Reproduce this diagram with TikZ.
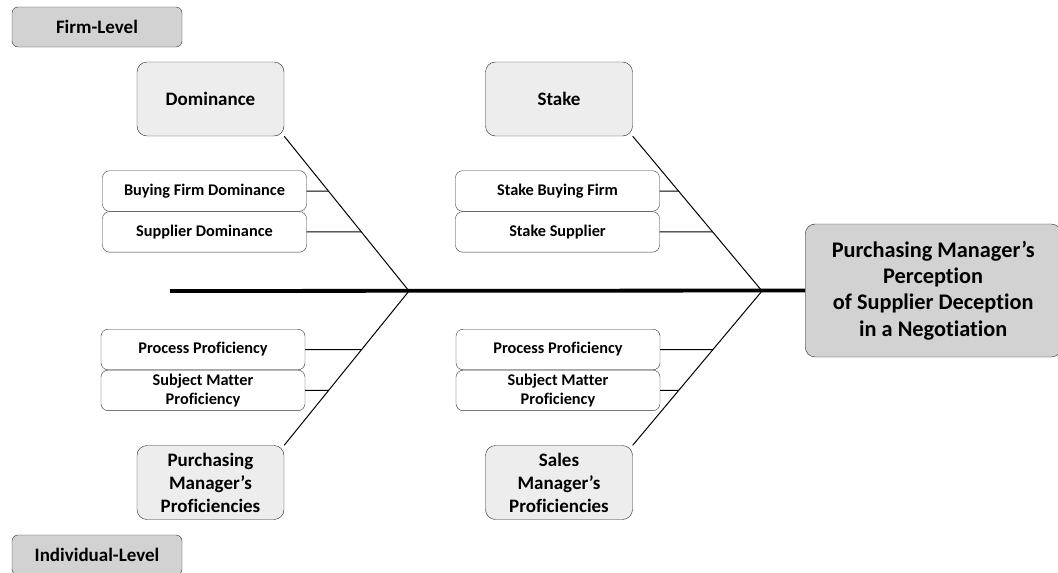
\documentclass[tikz,border=0pt]{standalone}
\usepackage{fontspec}
\setmainfont{Carlito}[Ligatures=NoCommon]
\usetikzlibrary{shapes.misc, positioning, calc}
\definecolor{darkgrey}{RGB}{210,210,210}
\definecolor{lightgrey}{RGB}{237,237,237}
\def\bigfnt{\bfseries\fontsize{19}{23}\selectfont}
\def\smallfnt{\bfseries\fontsize{16.3}{19.5}\selectfont}
\tikzstyle{level} = [rectangle, rounded corners=6pt, draw=black!80, fill=darkgrey, minimum width=170pt, minimum height=40pt, text centered, font=\bigfnt]
\tikzstyle{cause} = [rectangle, rounded corners=10pt, draw=black!85, fill=lightgrey, minimum width=147pt, minimum height=74pt, align=center, font=\bigfnt]
\tikzstyle{factor} = [rectangle, rounded corners=7pt, draw=black!80, fill=white, minimum width=204pt, minimum height=40.5pt, align=center, font=\smallfnt]
\tikzstyle{effect} = [rectangle, rounded corners=10pt, draw=black!85, fill=darkgrey, minimum width=256pt, minimum height=133pt, align=center, font=\bfseries\fontsize{22.3}{26.3}\selectfont]
\tikzstyle{bone} = [line width=1pt]
\tikzstyle{spine} = [line width=3.8pt]

\begin{document}
\begin{tikzpicture}[x=1pt, y=-1pt, inner sep=2pt]

  \useasboundingbox (0,0) rectangle (1058,573);

  % levels
  \node (firm) [level] at (97,27) {Firm-Level};
  \node (indiv) [level] at (97,555) {Individual-Level};

  % effect and spine
  \node (eff) [effect, anchor=west] at (805,290.5) {Purchasing Manager’s\\Perception\\of Supplier Deception\\in a Negotiation};
  \coordinate (tail) at (170,291);
  \coordinate (j1) at (409,291);
  \coordinate (j2) at (762,291);
  \draw [spine] (tail) -- (eff.west);

  % upper causes
  \node (dom) [cause] at (210.5,99) {Dominance};
  \node (stake) [cause] at (559,99) {Stake};
  \draw [bone] (dom.south east) -- (j1);
  \draw [bone] (stake.south east) -- (j2);

  \node (bfd) [factor] at (204.5,191) {Buying Firm Dominance};
  \node (sd) [factor, below=0 of bfd] {Supplier Dominance};
  \node (sbf) [factor] at (557.5,191) {Stake Buying Firm};
  \node (ss) [factor, below=0 of sbf] {Stake Supplier};

  \draw [bone] (bfd.east) -- (intersection of bfd.east--bfd.east -| eff.west and dom.south east--j1);
  \draw [bone] (sd.east) -- (intersection of sd.east--sd.east -| eff.west and dom.south east--j1);
  \draw [bone] (sbf.east) -- (intersection of sbf.east--sbf.east -| eff.west and stake.south east--j2);
  \draw [bone] (ss.east) -- (intersection of ss.east--ss.east -| eff.west and stake.south east--j2);

  % lower causes
  \node (pmp) [cause] at (210.5,482.5) {Purchasing\\Manager’s\\Proficiencies};
  \node (smp) [cause] at (559,482.5) {Sales\\Manager’s\\Proficiencies};
  \draw [bone] (pmp.north east) -- (j1);
  \draw [bone] (smp.north east) -- (j2);

  \node (pp1) [factor] at (203,349.5) {Process Proficiency};
  \node (sm1) [factor, below=0 of pp1] {Subject Matter\\Proficiency};
  \node (pp2) [factor] at (558,349.5) {Process Proficiency};
  \node (sm2) [factor, below=0 of pp2] {Subject Matter\\Proficiency};

  \draw [bone] (pp1.east) -- (intersection of pp1.east--pp1.east -| eff.west and pmp.north east--j1);
  \draw [bone] (sm1.east) -- (intersection of sm1.east--sm1.east -| eff.west and pmp.north east--j1);
  \draw [bone] (pp2.east) -- (intersection of pp2.east--pp2.east -| eff.west and smp.north east--j2);
  \draw [bone] (sm2.east) -- (intersection of sm2.east--sm2.east -| eff.west and smp.north east--j2);

\end{tikzpicture}
\end{document}
